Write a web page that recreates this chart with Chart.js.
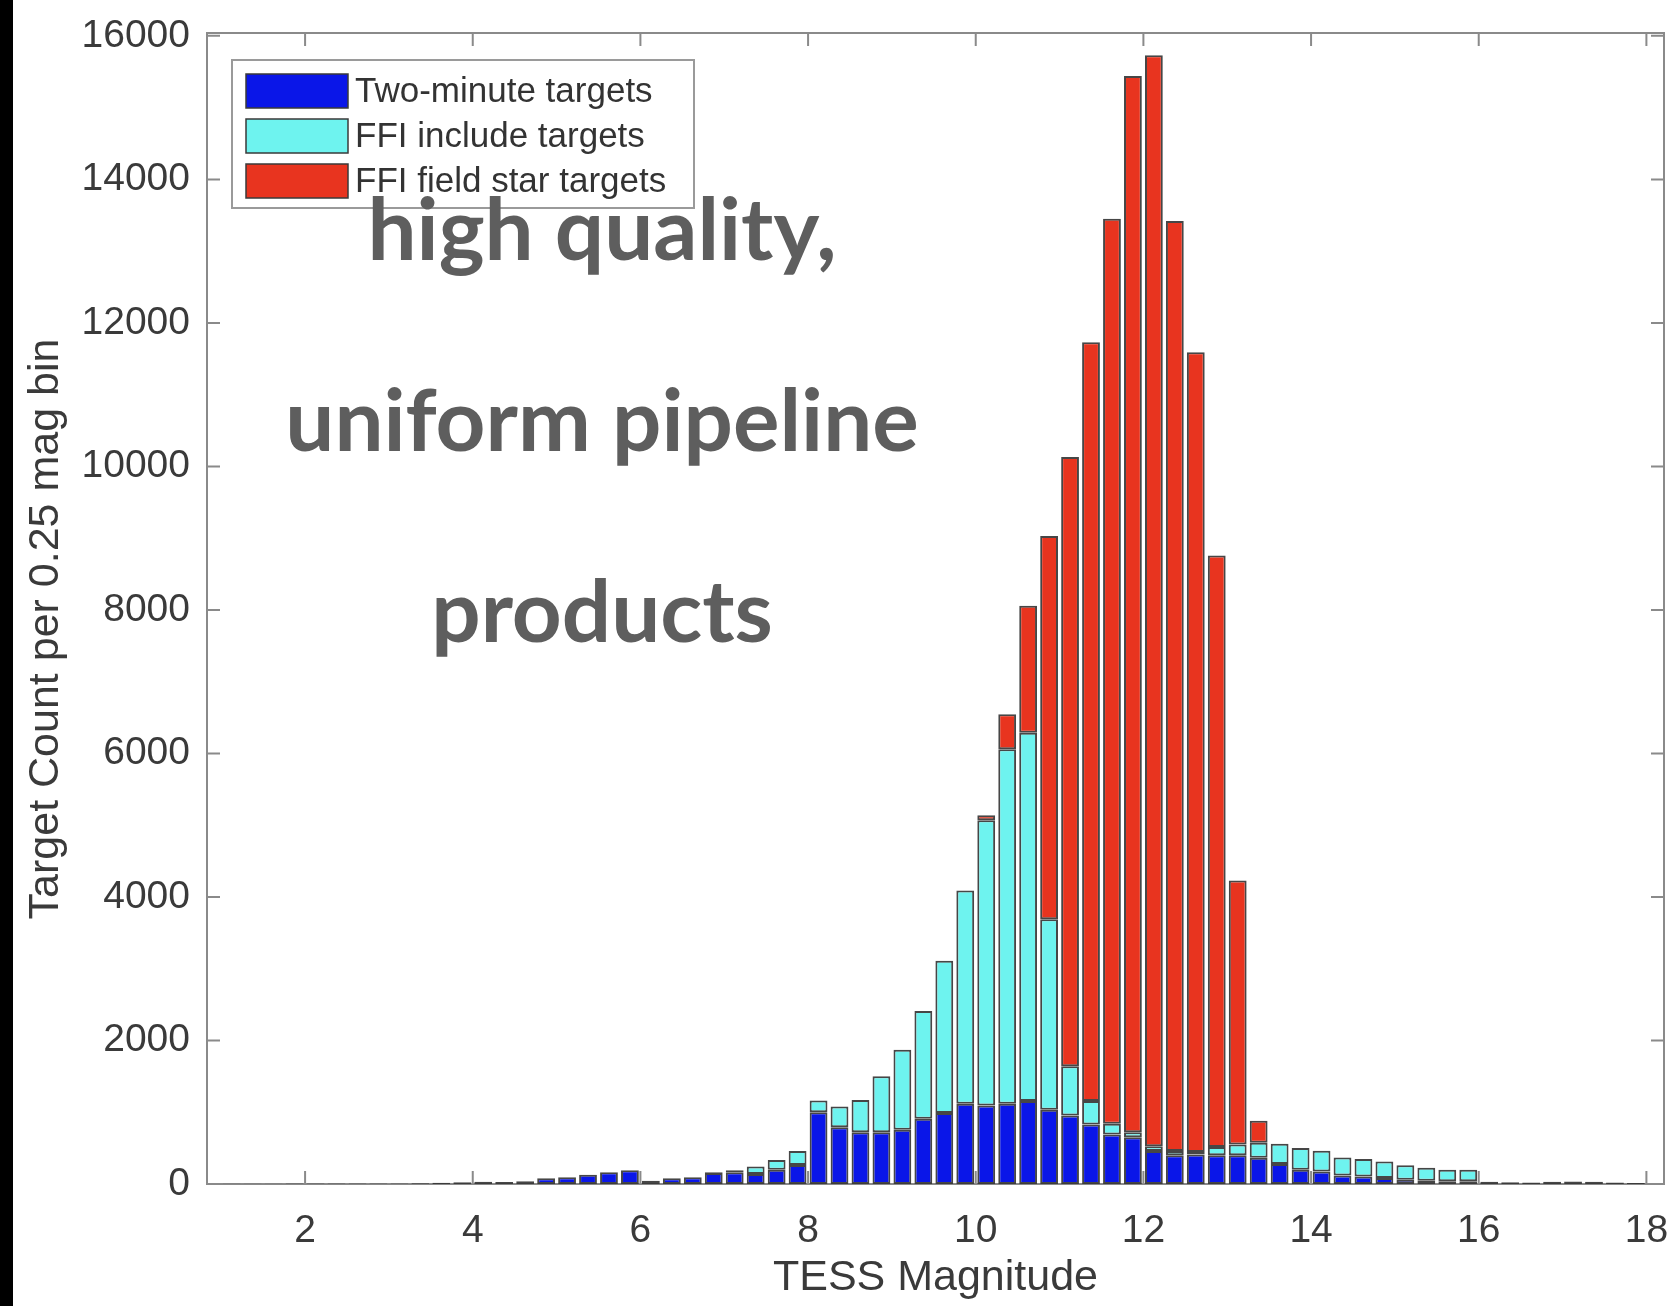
<!DOCTYPE html>
<html lang="en">
<head>
<meta charset="UTF-8">
<title>TESS Magnitude - Target Count</title>
<script src="https://cdn.jsdelivr.net/npm/chart.js@4.4.0/dist/chart.umd.min.js"></script>
<style>
    html, body { margin: 0; padding: 0; background: #fff; }
    .wrap { position: relative; width: 1675px; height: 1306px; overflow: hidden; }
    .wrap canvas { position: absolute; left: 0; top: 0; }
    .edge { position: absolute; left: 0; top: 0; width: 13px; height: 1306px; background: #000; }
</style>
</head>
<body>
<div class="wrap">
    <canvas id="magChart" width="1675" height="1306"></canvas>
    <div class="edge"></div>
</div>
<script>
// bin centres (0.25 mag bins)
const magBins = [
    1.125, 1.375, 1.625, 1.875, 2.125, 2.375, 2.625, 2.875,
    3.125, 3.375, 3.625, 3.875, 4.125, 4.375, 4.625, 4.875,
    5.125, 5.375, 5.625, 5.875, 6.125, 6.375, 6.625, 6.875,
    7.125, 7.375, 7.625, 7.875, 8.125, 8.375, 8.625, 8.875,
    9.125, 9.375, 9.625, 9.875, 10.125, 10.375, 10.625, 10.875,
    11.125, 11.375, 11.625, 11.875, 12.125, 12.375, 12.625, 12.875,
    13.125, 13.375, 13.625, 13.875, 14.125, 14.375, 14.625, 14.875,
    15.125, 15.375, 15.625, 15.875, 16.125, 16.375, 16.625, 16.875,
    17.125, 17.375, 17.625, 17.875
];

const twoMinute = [
    4, 5, 5, 6, 6, 6, 7, 7,
    8, 10, 18, 25, 30, 28, 40, 80,
    95, 130, 165, 190, 45, 80, 95, 155,
    165, 140, 200, 265, 1000, 790, 720, 720,
    755, 910, 990, 1120, 1095, 1120, 1155, 1035,
    955, 830, 690, 650, 460, 400, 410, 400,
    400, 365, 280, 200, 175, 120, 105, 85,
    60, 47, 37, 37, 30, 25, 20, 30,
    35, 30, 20, 15
];

const ffiInclude = [
    0, 0, 0, 0, 0, 0, 0, 0,
    0, 0, 0, 0, 0, 0, 0, 0,
    0, 0, 0, 0, 0, 0, 0, 10,
    25, 105, 135, 195, 165, 290, 450, 780,
    1115, 1500, 2120, 2970, 3975, 4940, 5135, 2655,
    685, 325, 150, 70, 65, 60, 35, 115,
    150, 210, 280, 300, 290, 250, 245, 230,
    200, 178, 163, 163, 0, 0, 0, 0,
    0, 0, 0, 0
];

const ffiField = [
    0, 0, 0, 0, 0, 0, 0, 0,
    0, 0, 0, 0, 0, 0, 0, 0,
    0, 0, 0, 0, 0, 0, 0, 0,
    0, 0, 0, 0, 0, 0, 0, 0,
    0, 0, 0, 0, 70, 485, 1770, 5340,
    8490, 10575, 12610, 14720, 15205, 12960, 11145, 8245,
    3680, 305, 0, 0, 0, 0, 0, 0,
    0, 0, 0, 0, 0, 0, 0, 0,
    0, 0, 0, 0
];

const seriesNames = ['Two-minute targets', 'FFI include targets', 'FFI field star targets'];
const seriesColors = ['#0A16E8', '#6EF3EF', '#E8341F'];
const xTicks = [2, 4, 6, 8, 10, 12, 14, 16, 18];
const yTicks = [0, 2000, 4000, 6000, 8000, 10000, 12000, 14000, 16000];
const yTitle = 'Target Count per 0.25 mag bin';
const overlayLines = ['high quality,', 'uniform pipeline', 'products'];

const axisFont = '"Liberation Sans", Arial, Helvetica, sans-serif';
const textColor = '#3a3a3a';

function toPoints(values) {
    return magBins.map((m, i) => ({ x: m, y: values[i] > 0 ? values[i] : null }));
}

// box with inward ticks on all four sides (drawn under the bars)
const frame = {
    id: 'frame',
    beforeDatasetsDraw(chart) {
        const { ctx, chartArea: a, scales: { x, y } } = chart;
        const len = 13;
        ctx.save();
        ctx.strokeStyle = '#8a8a8a';
        ctx.lineWidth = 2;
        ctx.beginPath();
        xTicks.forEach(v => {
            const px = x.getPixelForValue(v);
            ctx.moveTo(px, a.bottom); ctx.lineTo(px, a.bottom - len);
            ctx.moveTo(px, a.top); ctx.lineTo(px, a.top + len);
        });
        yTicks.forEach(v => {
            const py = y.getPixelForValue(v);
            ctx.moveTo(a.left, py); ctx.lineTo(a.left + len, py);
            ctx.moveTo(a.right, py); ctx.lineTo(a.right - len, py);
        });
        ctx.stroke();
        ctx.strokeRect(a.left, a.top, a.right - a.left, a.bottom - a.top);

        // y axis label, sits a little below the middle like the original
        ctx.translate(46, 629);
        ctx.rotate(-Math.PI / 2);
        ctx.font = '43px ' + axisFont;
        ctx.fillStyle = textColor;
        ctx.textAlign = 'center';
        ctx.textBaseline = 'middle';
        ctx.fillText(yTitle, 0, 0);
        ctx.restore();
    }
};

// matlab style legend box in the upper left corner
const boxLegend = {
    id: 'boxLegend',
    afterDraw(chart) {
        const ctx = chart.ctx;
        const left = 232, top = 60, w = 462, h = 148;
        ctx.save();
        ctx.fillStyle = '#fff';
        ctx.fillRect(left, top, w, h);
        ctx.strokeStyle = '#9a9a9a';
        ctx.lineWidth = 2;
        ctx.strokeRect(left, top, w, h);
        ctx.font = '35px ' + axisFont;
        ctx.textBaseline = 'middle';
        chart.data.datasets.forEach((ds, i) => {
            const rowY = top + 14 + i * 45;
            ctx.fillStyle = ds.backgroundColor;
            ctx.fillRect(246, rowY, 102, 34);
            ctx.strokeStyle = '#3a3a3a';
            ctx.lineWidth = 1.5;
            ctx.strokeRect(246, rowY, 102, 34);
            ctx.fillStyle = '#333';
            ctx.fillText(ds.label, 355, rowY + 18);
        });
        ctx.restore();
    }
};

// big grey slide text over the plot
const overlay = {
    id: 'overlay',
    afterDraw(chart) {
        const ctx = chart.ctx;
        ctx.save();
        ctx.font = 'bold 87px Lato, "Open Sans", sans-serif';
        ctx.fillStyle = '#5e5e5e';
        ctx.textAlign = 'center';
        ctx.textBaseline = 'alphabetic';
        overlayLines.forEach((t, i) => {
            ctx.fillText(t, 602, 260 + i * 191);
        });
        ctx.restore();
    }
};

new Chart(document.getElementById('magChart'), {
    type: 'bar',
    data: {
        datasets: [twoMinute, ffiInclude, ffiField].map((vals, i) => ({
            label: seriesNames[i],
            data: toPoints(vals),
            backgroundColor: seriesColors[i],
            borderColor: 'rgba(50,50,50,0.9)',
            borderWidth: 2,
            borderSkipped: false,
            barPercentage: 0.85,
            categoryPercentage: 1.0
        }))
    },
    options: {
        responsive: false,
        animation: false,
        devicePixelRatio: 1,
        layout: { padding: { top: 33, right: 11, left: 0, bottom: 0 } },
        plugins: {
            legend: { display: false },
            tooltip: { enabled: false }
        },
        scales: {
            x: {
                type: 'linear',
                stacked: true,
                offset: false,
                min: 0.83,
                max: 18.21,
                afterFit: s => { s.height = 122; s.paddingLeft = 0; s.paddingRight = 0; },
                afterBuildTicks: s => { s.ticks = xTicks.map(v => ({ value: v })); },
                grid: { display: false, drawTicks: false },
                border: { display: false },
                ticks: {
                    padding: 24,
                    color: textColor,
                    font: { family: axisFont, size: 39 },
                    maxRotation: 0,
                    callback: v => String(v)
                },
                title: {
                    display: true,
                    text: 'TESS Magnitude',
                    color: textColor,
                    font: { family: axisFont, size: 43 },
                    padding: { top: 0, bottom: 2 }
                }
            },
            y: {
                stacked: true,
                min: 0,
                max: 16040,
                afterFit: s => { s.width = 207; s.paddingTop = 0; s.paddingBottom = 0; },
                afterBuildTicks: s => { s.ticks = yTicks.map(v => ({ value: v })); },
                grid: { display: false, drawTicks: false },
                border: { display: false },
                ticks: {
                    padding: 17,
                    color: textColor,
                    font: { family: axisFont, size: 39 },
                    callback: v => String(v)
                },
                title: { display: false }
            }
        }
    },
    plugins: [frame, boxLegend, overlay]
});
</script>
</body>
</html>
